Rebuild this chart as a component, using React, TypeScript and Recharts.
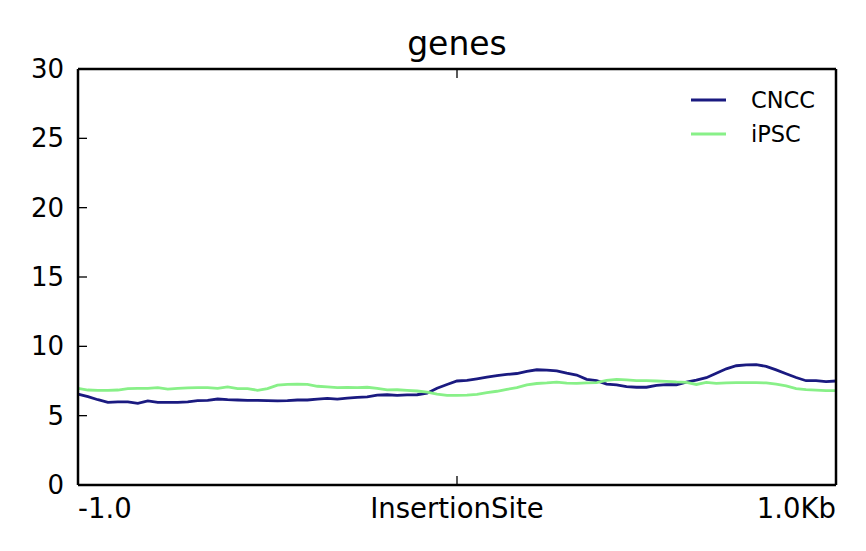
import React from "react";
import { LineChart, Line, XAxis, YAxis } from "recharts";

const POSITIONS: number[] = Array.from({ length: 77 }, (_, i) => i);

const CNCC: number[] = [
  6.56, 6.37, 6.15, 5.96, 6.0, 6.0, 5.89, 6.06, 5.96, 5.96,
  5.96, 6.0, 6.08, 6.1, 6.2, 6.15, 6.13, 6.1, 6.1, 6.08,
  6.06, 6.08, 6.13, 6.13, 6.2, 6.25, 6.2, 6.27, 6.32, 6.35,
  6.48, 6.51, 6.47, 6.5, 6.51, 6.62, 6.98, 7.25, 7.5, 7.55,
  7.66, 7.78, 7.89, 7.97, 8.04, 8.2, 8.31, 8.28, 8.23, 8.06,
  7.93, 7.62, 7.52, 7.28, 7.22, 7.1, 7.05, 7.05, 7.18, 7.24,
  7.23, 7.42, 7.56, 7.74, 8.06, 8.38, 8.6, 8.66, 8.68, 8.55,
  8.3, 8.02, 7.75, 7.52, 7.52, 7.45, 7.5,
];

const IPSC: number[] = [
  6.97, 6.85, 6.83, 6.83, 6.85, 6.95, 6.97, 6.97, 7.02, 6.92,
  6.97, 7.0, 7.02, 7.02, 6.97, 7.07, 6.95, 6.95, 6.83, 6.95,
  7.2, 7.26, 7.28, 7.25, 7.12, 7.07, 7.02, 7.04, 7.02, 7.05,
  6.97, 6.86, 6.87, 6.82, 6.78, 6.7, 6.56, 6.46, 6.46, 6.48,
  6.54, 6.66, 6.76, 6.9, 7.02, 7.22, 7.32, 7.36, 7.42, 7.35,
  7.33, 7.37, 7.38, 7.54, 7.62, 7.58, 7.53, 7.52, 7.5, 7.48,
  7.43, 7.4, 7.25, 7.4, 7.33, 7.36, 7.38, 7.38, 7.38, 7.36,
  7.27, 7.15, 6.95, 6.88, 6.84, 6.8, 6.8,
];

const SERIES_NAMES = ["CNCC", "iPSC"];
const SERIES_COLORS = ["#1a1a80", "#88f088"];
const X_TICKS = [0, 38, 76];
const X_TICK_LABELS = ["-1.0", "InsertionSite", "1.0Kb"];
const Y_TICKS = [0, 5, 10, 15, 20, 25, 30];
const TITLE = "genes";

const data = POSITIONS.map((p, i) => ({ pos: p, CNCC: CNCC[i], iPSC: IPSC[i] }));

const W = 866;
const H = 551;
const PL = 78;
const PR = 836;
const PT = 69;
const PB = 485;
const TICK_LEN = 9;
const FONT = "'DejaVu Sans', sans-serif";

const LeftTick = (props: any) => {
  const { y, payload } = props;
  return (
    <g>
      <line x1={PL} x2={PL + TICK_LEN} y1={y} y2={y} stroke="#000" strokeWidth={1.3} />
      <text x={PL - 14} y={y + 9} textAnchor="end" fontSize={26} fontFamily={FONT} fill="#000">
        {payload.value}
      </text>
    </g>
  );
};

const RightTick = (props: any) => {
  const { y } = props;
  return <line x1={PR - TICK_LEN} x2={PR} y1={y} y2={y} stroke="#000" strokeWidth={1.3} />;
};

const BottomTick = (props: any) => {
  const { x, payload } = props;
  const idx = X_TICKS.indexOf(payload.value);
  const anchor = idx === 0 ? "start" : idx === X_TICKS.length - 1 ? "end" : "middle";
  return (
    <g>
      <line x1={x} x2={x} y1={PB - TICK_LEN} y2={PB} stroke="#000" strokeWidth={1.3} />
      <text x={x} y={PB + 33} textAnchor={anchor} fontSize={27.5} fontFamily={FONT} fill="#000">
        {X_TICK_LABELS[idx]}
      </text>
    </g>
  );
};

const TopTick = (props: any) => {
  const { x } = props;
  return <line x1={x} x2={x} y1={PT} y2={PT + TICK_LEN} stroke="#000" strokeWidth={1.3} />;
};

export default function App() {
  return (
    <div style={{ position: "absolute", left: 0, top: 0, width: W, height: H, background: "#fff" }}>
      <LineChart width={W} height={H} data={data} margin={{ top: PT - 1, right: W - PR - 1, bottom: 0, left: 0 }}>
        <XAxis
          xAxisId="bottom"
          dataKey="pos"
          type="number"
          domain={[0, 76]}
          ticks={X_TICKS}
          height={H - PB}
          axisLine={{ stroke: "#000", strokeWidth: 2.5 }}
          tickLine={false}
          tick={<BottomTick />}
          interval={0}
        />
        <XAxis
          xAxisId="top"
          orientation="top"
          dataKey="pos"
          type="number"
          domain={[0, 76]}
          ticks={X_TICKS}
          height={1}
          axisLine={{ stroke: "#000", strokeWidth: 2.5 }}
          tickLine={false}
          tick={<TopTick />}
          interval={0}
        />
        <YAxis
          yAxisId="left"
          type="number"
          domain={[0, 30]}
          ticks={Y_TICKS}
          width={PL}
          axisLine={{ stroke: "#000", strokeWidth: 2.5 }}
          tickLine={false}
          tick={<LeftTick />}
          interval={0}
        />
        <YAxis
          yAxisId="right"
          orientation="right"
          type="number"
          domain={[0, 30]}
          ticks={Y_TICKS}
          width={1}
          axisLine={{ stroke: "#000", strokeWidth: 2.5 }}
          tickLine={false}
          tick={<RightTick />}
          interval={0}
        />
        {SERIES_NAMES.map((name, i) => (
          <Line
            key={name}
            xAxisId="bottom"
            yAxisId="left"
            type="linear"
            dataKey={name}
            name={name}
            stroke={SERIES_COLORS[i]}
            strokeWidth={2.8}
            dot={false}
            activeDot={false}
            isAnimationActive={false}
          />
        ))}
      </LineChart>
      <svg width={W} height={H} style={{ position: "absolute", left: 0, top: 0, pointerEvents: "none" }}>
        <text x={(PL + PR) / 2} y={55} textAnchor="middle" fontSize={33} fontFamily={FONT} fill="#000">
          {TITLE}
        </text>
        {SERIES_NAMES.map((name, i) => (
          <g key={name}>
            <line x1={691} x2={726} y1={100 + i * 34} y2={100 + i * 34} stroke={SERIES_COLORS[i]} strokeWidth={2.8} />
            <text x={751} y={100 + i * 34 + 8} fontSize={22.5} fontFamily={FONT} fill="#000">
              {name}
            </text>
          </g>
        ))}
      </svg>
    </div>
  );
}
